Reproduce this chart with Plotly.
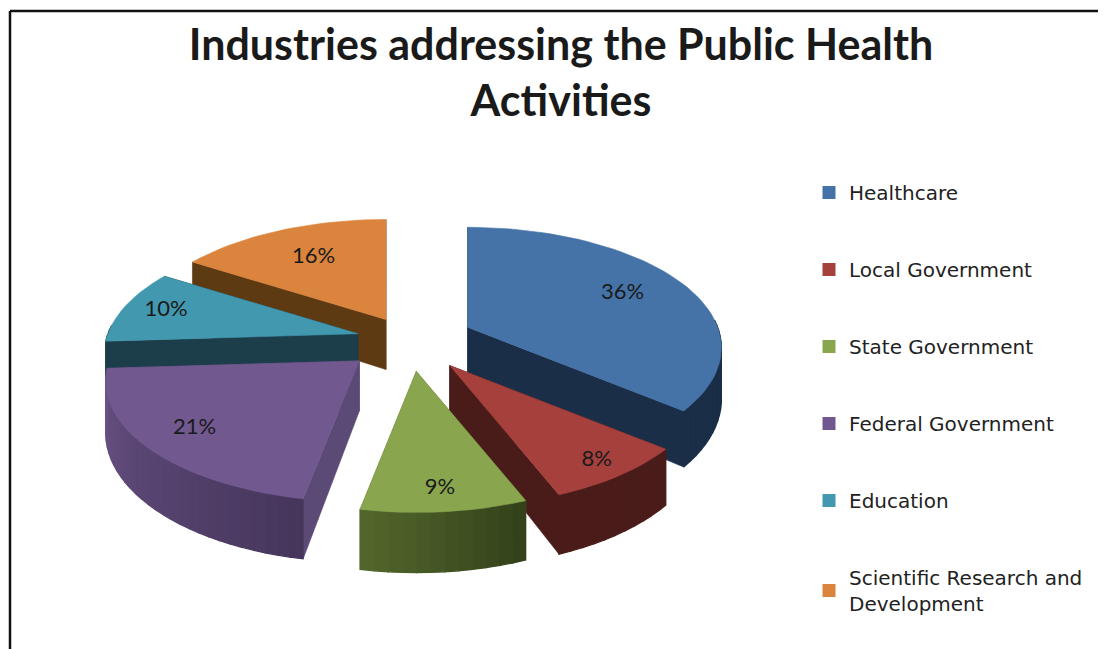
import math
import plotly.graph_objects as go

title = "Industries addressing the Public Health<br>Activities"
categories = ["Healthcare", "Local Government", "State Government",
              "Federal Government", "Education", "Scientific Research and<br>Development"]
values = [36, 8, 9, 21, 10, 16]
top_colors = ["#4572A7", "#A5403D", "#89A54E", "#71588F", "#4198AF", "#DB843D"]
side_colors = ["#1A2E48", "#4A1C19", "#55692D", "#5B4A75", "#1B3E4A", "#5E3A12"]
arc_start = ["#1A2E48", "#4A1C19", "#33421A", "#46365C", "#1B3E4A", "#5E3A12"]
arc_end = ["#1A2E48", "#4A1C19", "#55692D", "#6B5488", "#1B3E4A", "#5E3A12"]
draw_order = [5, 4, 0, 3, 1, 2]
label_radius = [0.72, 0.88, 0.86, 0.80, 0.82, 0.66]
explode = [0.255, 0.27, 0.27, 0.27, 0.215, 0.20]

PAGE_W, PAGE_H, BODY = 1106, 649, 8
CX, CY, RX, RY, K, DEPTH = 410, 340, 250, 117, 0.17, 50


def project(ox, oy, X=0.0, Y=0.0, h=0.0):
    s = 1 / (1 - K * Y)
    return CX + RX * (ox + X * s), CY + RY * (oy + Y * s) + h * s


def hex_rgb(c):
    return [int(c[i:i + 2], 16) for i in (1, 3, 5)]


def mix(a, b, t):
    p, q = hex_rgb(a), hex_rgb(b)
    return "rgb(%d,%d,%d)" % tuple(round(p[i] + (q[i] - p[i]) * t) for i in range(3))


total = sum(values)
angles = []
acc = 0
for v in values:
    angles.append((acc / total * 2 * math.pi, (acc + v) / total * 2 * math.pi))
    acc += v

fig = go.Figure()


def poly(pts, color, w=0.6):
    fig.add_trace(go.Scatter(
        x=[p[0] for p in pts] + [pts[0][0]], y=[p[1] for p in pts] + [pts[0][1]],
        mode="lines", fill="toself", fillcolor=color, line=dict(color=color, width=w),
        hoverinfo="skip", showlegend=False))


for i in draw_order:
    a0, a1 = angles[i]
    mid = (a0 + a1) / 2
    ox, oy = explode[i] * math.sin(mid), -explode[i] * math.cos(mid)
    n = max(8, int((a1 - a0) / math.radians(2.5)))
    arc = []
    for j in range(n + 1):
        a = a0 + (a1 - a0) * j / n
        arc.append((math.sin(a), -math.cos(a)))
    faces = sorted([arc[0], arc[-1]], key=lambda f: f[1])
    for q in faces:
        poly([project(ox, oy), project(ox, oy, *q), project(ox, oy, *q, DEPTH), project(ox, oy, h=DEPTH)],
             side_colors[i])
    for j in range(n):
        p, q = arc[j], arc[j + 1]
        if (p[1] + q[1]) / 2 > -0.08:
            poly([project(ox, oy, *p), project(ox, oy, *q), project(ox, oy, *q, DEPTH), project(ox, oy, *p, DEPTH)],
                 mix(arc_start[i], arc_end[i], j / n), 1.2)
    poly([project(ox, oy)] + [project(ox, oy, *p) for p in arc], top_colors[i])

lx, ly, lt = [], [], []
for i, v in enumerate(values):
    a0, a1 = angles[i]
    mid = (a0 + a1) / 2
    ox, oy = explode[i] * math.sin(mid), -explode[i] * math.cos(mid)
    x, y = project(ox, oy, label_radius[i] * math.sin(mid), -label_radius[i] * math.cos(mid))
    lx.append(x); ly.append(y); lt.append(f"{round(v / total * 100)}%")
fig.add_trace(go.Scatter(x=lx, y=ly, text=lt, mode="text", hoverinfo="skip", showlegend=False,
                         textfont=dict(family="Lato", size=22, color="#1a1a1a")))

for c, name in zip(top_colors, categories):
    fig.add_trace(go.Scatter(x=[None], y=[None], mode="markers", name=name, legendgroup=name,
                             marker=dict(symbol="square", size=13, color=c)))

W, H = PAGE_W - BODY, PAGE_H - BODY
bx, by = (10 - BODY) / W, 1 - (11 - BODY) / H
fig.update_layout(
    width=W, height=H, autosize=False,
    margin=dict(l=0, r=0, t=0, b=0),
    paper_bgcolor="white", plot_bgcolor="white",
    title=dict(text=title, x=(561 - BODY) / W, xanchor="center", y=0.919, yanchor="top",
               font=dict(family="Lato", size=43, color="#1a1a1a", weight="bold")),
    xaxis=dict(range=[BODY, PAGE_W], visible=False, domain=[0, 1]),
    yaxis=dict(range=[PAGE_H, BODY], visible=False, domain=[0, 1]),
    legend=dict(x=(809 - BODY) / W, xanchor="left", y=1 - (173 - BODY) / H, yanchor="top",
                font=dict(family="DejaVu Sans", size=20, color="#222222"),
                tracegroupgap=48, itemclick=False, itemdoubleclick=False,
                bgcolor="rgba(0,0,0,0)", itemwidth=30),
    shapes=[
        dict(type="line", xref="paper", yref="paper", x0=bx, x1=1, y0=by, y1=by,
             line=dict(color="#111111", width=2.5)),
        dict(type="line", xref="paper", yref="paper", x0=bx, x1=bx, y0=by, y1=0,
             line=dict(color="#111111", width=2.5)),
    ],
)
fig.write_html("out.html")
